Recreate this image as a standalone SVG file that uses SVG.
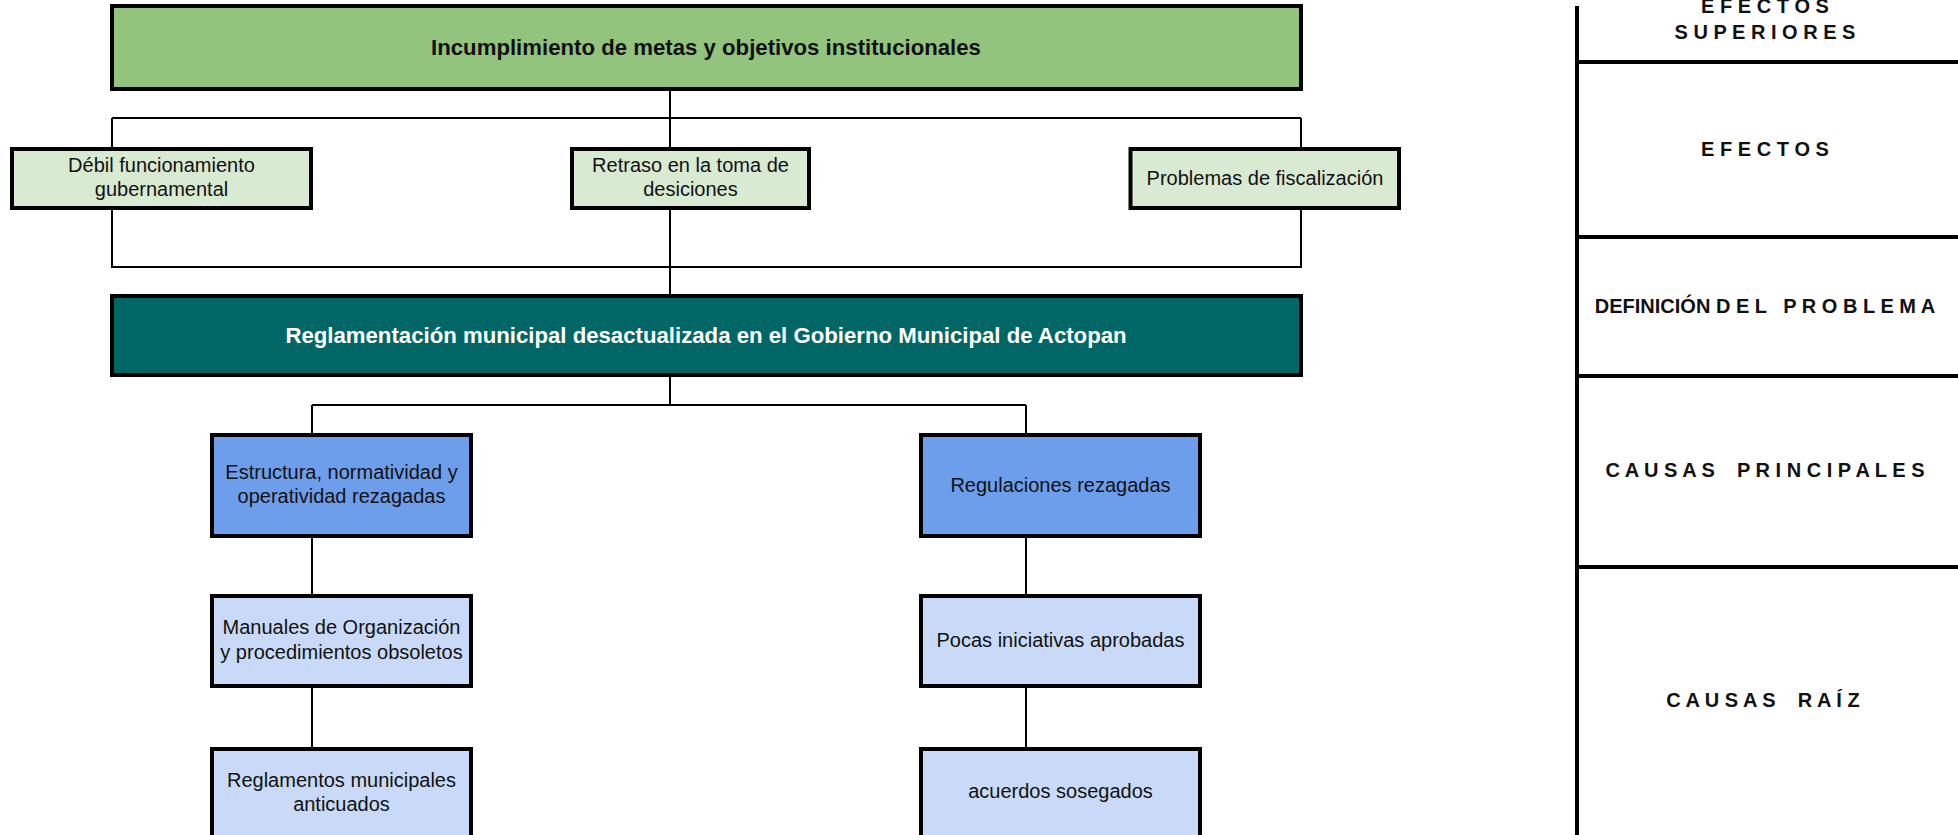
<svg xmlns="http://www.w3.org/2000/svg" width="1958" height="835" viewBox="0 0 1958 835">
<style>
.box{stroke:#000;stroke-width:4}
.t{font-family:"Liberation Sans",Arial,sans-serif;font-size:20px;fill:#111;text-anchor:middle}
.tb{font-family:"Liberation Sans",Arial,sans-serif;font-size:22.2px;font-weight:bold;text-anchor:middle}
.lbl{font-family:"Liberation Sans",Arial,sans-serif;font-size:20px;font-weight:bold;fill:#111;text-anchor:middle;white-space:pre}
.c{fill:none;stroke:#000;stroke-width:2}
.panel{fill:none;stroke:#000;stroke-width:4}
</style>
<rect width="1958" height="835" fill="#fff"/>
<g id="connectors">
<path class="c" d="M670,91 V147"/>
<path class="c" d="M112,118 H1301 M112,118 V147 M1301,118 V147"/>
<path class="c" d="M112,209 V267 H1301 V209"/>
<path class="c" d="M670,209 V294"/>
<path class="c" d="M670,377 V405 M312,405 H1026 M312,405 V433 M1026,405 V433"/>
<path class="c" d="M312,538 V594 M312,688 V747"/>
<path class="c" d="M1026,538 V594 M1026,688 V747"/>
</g>
<g id="n-top"><rect class="box" x="112" y="6" width="1189" height="83" fill="#93c47d"/>
<text class="tb" x="706" y="55" fill="#111">Incumplimiento de metas y objetivos institucionales</text></g>
<g id="n-debil"><rect class="box" x="12" y="149" width="299" height="59" fill="#d9ead3"/>
<text class="t" x="161.5" y="172">Débil funcionamiento</text><text class="t" x="161.5" y="196">gubernamental</text></g>
<g id="n-retraso"><rect class="box" x="572" y="149" width="237" height="59" fill="#d9ead3"/>
<text class="t" x="690.5" y="172">Retraso en la toma de</text><text class="t" x="690.5" y="196">desiciones</text></g>
<g id="n-problemas"><rect class="box" x="1130.5" y="149" width="268.5" height="59" fill="#d9ead3"/>
<text class="t" x="1265" y="185">Problemas de fiscalización</text></g>
<g id="n-problema"><rect class="box" x="112" y="296" width="1189" height="79" fill="#006666"/>
<text class="tb" x="706" y="343" fill="#fff">Reglamentación municipal desactualizada en el Gobierno Municipal de Actopan</text></g>
<g id="n-estructura"><rect class="box" x="212" y="435" width="259" height="101" fill="#6d9eeb"/>
<text class="t" x="341.5" y="479">Estructura, normatividad y</text><text class="t" x="341.5" y="503">operatividad rezagadas</text></g>
<g id="n-regulaciones"><rect class="box" x="921" y="435" width="279" height="101" fill="#6d9eeb"/>
<text class="t" x="1060.5" y="492">Regulaciones rezagadas</text></g>
<g id="n-manuales"><rect class="box" x="212" y="596" width="259" height="90" fill="#c9daf8"/>
<text class="t" x="341.5" y="634">Manuales de Organización</text><text class="t" x="341.5" y="659">y procedimientos obsoletos</text></g>
<g id="n-pocas"><rect class="box" x="921" y="596" width="279" height="90" fill="#c9daf8"/>
<text class="t" x="1060.5" y="647">Pocas iniciativas aprobadas</text></g>
<g id="n-reglamentos"><rect class="box" x="212" y="749" width="259" height="100" fill="#c9daf8"/>
<text class="t" x="341.5" y="787">Reglamentos municipales</text><text class="t" x="341.5" y="811">anticuados</text></g>
<g id="n-acuerdos"><rect class="box" x="921" y="749" width="279" height="100" fill="#c9daf8"/>
<text class="t" x="1060.5" y="798">acuerdos sosegados</text></g>
<g id="panel">
<path class="panel" d="M1577,6 V835 M1577,62 H1958 M1577,237 H1958 M1577,376 H1958 M1577,567 H1958"/>
<text class="lbl" x="1765" y="13">E F E C T O S</text>
<text class="lbl" x="1765" y="39">S U P E R I O R E S</text>
<text class="lbl" x="1765" y="156">E F E C T O S</text>
<text class="lbl" x="1765" y="313">DEFINICIÓN D E L   P R O B L E M A</text>
<text class="lbl" x="1765" y="477">C A U S A S    P R I N C I P A L E S</text>
<text class="lbl" x="1763" y="707">C A U S A S    R A Í Z</text>
</g>
</svg>
